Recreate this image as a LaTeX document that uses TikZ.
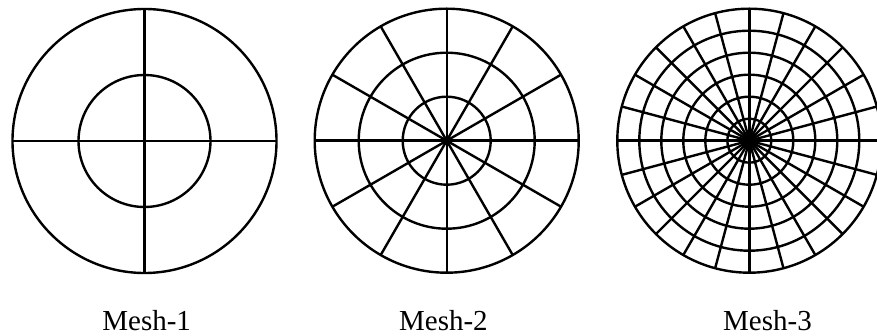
\documentclass[tikz,border=0pt]{standalone}
\usepackage{fontspec}
\setmainfont{Liberation Serif}
\begin{document}
\begin{tikzpicture}[x=1pt,y=-1pt,
  mesh/.style={line width=2.4pt, black},
  lab/.style={font=\fontsize{29}{34}\selectfont, anchor=base, inner sep=0pt}]
\useasboundingbox (0,0) rectangle (877,336);
\begin{scope}
\clip (0,0) rectangle (877,336);
% Mesh-1
\coordinate (c1) at (144.5,141);
\draw[mesh] (c1) circle[radius=132];
\draw[mesh] (c1) circle[radius=66];
\foreach \a in {0,90,180,270} \draw[mesh] (c1) -- ++(\a:132);
% Mesh-2
\coordinate (c2) at (446.7,140.7);
\foreach \r in {44,88,132} \draw[mesh] (c2) circle[radius=\r];
\foreach \a in {0,30,...,330} \draw[mesh] (c2) -- ++(\a:132);
% Mesh-3
\coordinate (c3) at (749.3,140.7);
\foreach \r in {22,44,66,88,110,132} \draw[mesh] (c3) circle[radius=\r];
\foreach \a in {0,15,...,345} \draw[mesh] (c3) -- ++(\a:132);
\end{scope}
\node[lab] (l1) at (146.7,330.5) {Mesh-1};
\node[lab] (l2) at (443.4,330) {Mesh-2};
\node[lab] (l3) at (767.5,330.5) {Mesh-3};
\end{tikzpicture}
\end{document}
